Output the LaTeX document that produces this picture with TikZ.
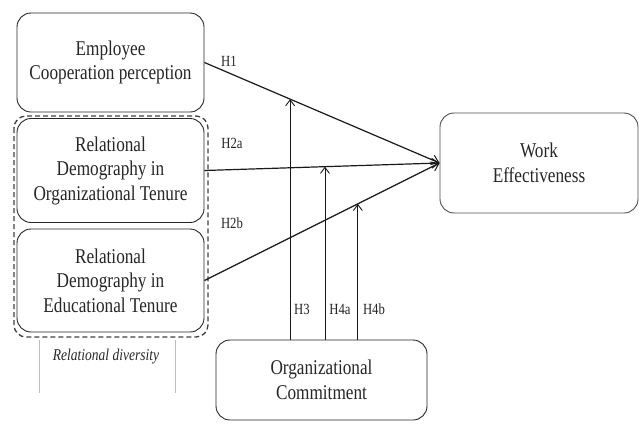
\documentclass[tikz,border=0pt]{standalone}
\usepackage{fontspec}
\setmainfont[FakeStretch=0.82]{Liberation Serif}
\usetikzlibrary{arrows.meta,calc}
\begin{document}
\begin{tikzpicture}[x=1pt,y=-1pt,
  box/.style={draw=black!85,line width=0.9pt,rounded corners=14pt,align=center,inner sep=0pt,
    font=\fontsize{21}{24.5}\selectfont,text=black!85},
  hlab/.style={font=\fontsize{15.5}{17}\selectfont,text=black!85,inner sep=0pt},
  mainarrow/.style={line width=1.2pt,draw=black!90,-{Straight Barb[length=7pt,width=10pt,line width=1pt]}},
  modarrow/.style={line width=0.9pt,draw=black!90,-{Straight Barb[length=6pt,width=9pt,line width=0.9pt]}}]
\useasboundingbox (0,0) rectangle (639,424);
% boxes
\node[box,minimum width=187pt,minimum height=99pt] (emp) at (110.5,62.5) {Employee\\Cooperation perception};
\node[box,minimum width=187pt,minimum height=104pt] (org) at (110.5,170.5) {Relational\\Demography in\\Organizational Tenure};
\node[box,minimum width=187pt,minimum height=103pt] (edu) at (110.5,280.5) {Relational\\Demography in\\Educational Tenure};
\draw[dashed,line width=1.3pt,draw=black!75,rounded corners=12pt,dash pattern=on 5pt off 3pt] (14,116) rectangle (208,337);
\node[box,minimum width=198pt,minimum height=100pt,draw=black!70] (we) at (539,163) {Work\\Effectiveness};
\node[box,minimum width=211pt,minimum height=80pt] (oc) at (321.5,380) {Organizational\\Commitment};
% relational diversity
\node[font=\fontsize{16.5}{18}\selectfont\itshape,text=black!85] (rd) at (106,357) {Relational diversity};
\draw[black!25,line width=0.5pt] (39,340) -- (39,393);
\draw[black!25,line width=0.5pt] (175,340) -- (175,393);
% main arrows
\coordinate (tip) at (we.west);
\draw[mainarrow] (emp.east) -- (tip);
\draw[mainarrow] (org.east) -- (tip);
\draw[mainarrow] (edu.east) -- (tip);
% moderator arrows
\coordinate (m1) at ($(emp.east)!{(290-204)/(440-204)}!(tip)$);
\coordinate (m2) at ($(org.east)!{(325-204)/(440-204)}!(tip)$);
\coordinate (m3) at ($(edu.east)!{(358-204)/(440-204)}!(tip)$);
\draw[modarrow] (oc.north -| m1) -- (m1);
\draw[modarrow] (oc.north -| m2) -- (m2);
\draw[modarrow] (oc.north -| m3) -- (m3);
% labels
\node[hlab] (h1) at (229,61) {H1};
\node[hlab] (h2a) at (232,143) {H2a};
\node[hlab] (h2b) at (232,223) {H2b};
\node[hlab] (h3) at (302,309) {H3};
\node[hlab] (h4a) at (340,309) {H4a};
\node[hlab] (h4b) at (374,309) {H4b};
\end{tikzpicture}
\end{document}
